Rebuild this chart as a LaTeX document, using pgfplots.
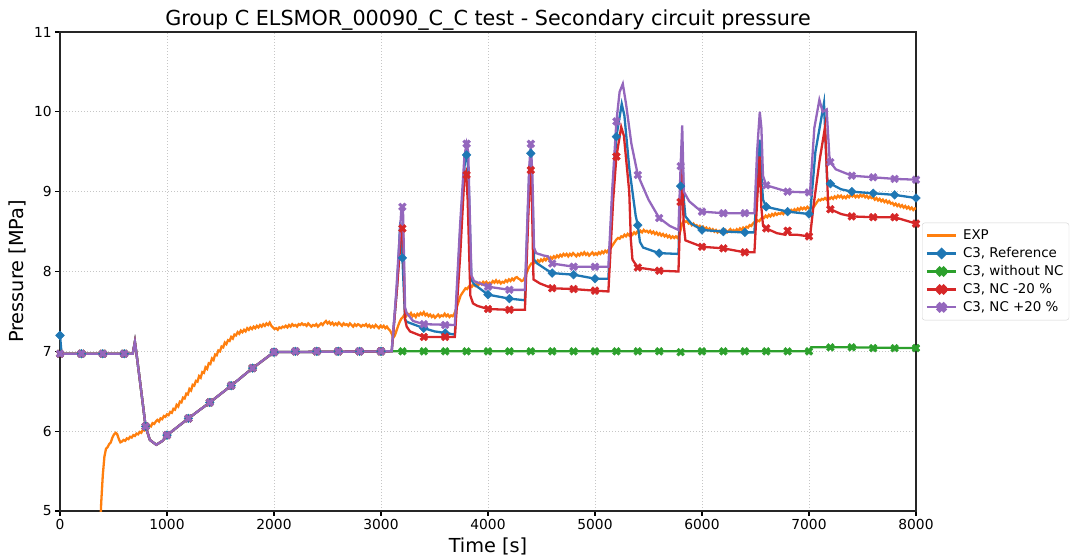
\documentclass[border=0pt]{standalone}
\usepackage{fontspec}
\setmainfont{DejaVu Sans}
\usepackage{pgfplots}
\pgfplotsset{compat=1.18}

\definecolor{cexp}{HTML}{FF7F0E}
\definecolor{cref}{HTML}{1F77B4}
\definecolor{cgrn}{HTML}{2CA02C}
\definecolor{cred}{HTML}{D62728}
\definecolor{cpur}{HTML}{9467BD}

% filled X marker (like matplotlib 'X')
\pgfdeclareplotmark{Xf}{%
  \pgftransformrotate{45}%
  \pgfpathrectanglecorners{\pgfpoint{-\pgfplotmarksize}{-0.32\pgfplotmarksize}}{\pgfpoint{\pgfplotmarksize}{0.32\pgfplotmarksize}}%
  \pgfpathrectanglecorners{\pgfpoint{-0.32\pgfplotmarksize}{-\pgfplotmarksize}}{\pgfpoint{0.32\pgfplotmarksize}{\pgfplotmarksize}}%
  \pgfusepathqfillstroke}

\pgfplotsset{
  simline/.style={line width=2.3pt, no marks},
  dmark/.style={only marks, mark=square*, mark size=3.1pt, mark options={rotate=45}},
  xmark/.style={only marks, mark=Xf, mark size=4.2pt},
}

\begin{document}
\begin{tikzpicture}
\begin{axis}[
  scale only axis, width=856pt, height=479pt,
  xmin=0, xmax=8000, ymin=5, ymax=11,
  xtick={0,1000,...,8000}, ytick={5,6,...,11},
  xtick pos=left, ytick pos=left, tick align=outside,
  major tick length=4.8pt,
  tick style={black, line width=1.1pt},
  axis line style={black!85, line width=1.1pt},
  grid=major,
  major grid style={gray!45, line width=0.9pt, dash pattern=on 1.4pt off 1.6pt},
  /pgf/number format/assume math mode=true,
  /pgf/number format/1000 sep={},
  tick label style={font=\fontsize{13.8}{16}\selectfont},
  xlabel={Time [s]}, ylabel={Pressure [MPa]},
  label style={font=\fontsize{19.3}{22}\selectfont},
  xlabel style={yshift=-1pt},
  ylabel style={yshift=1pt},
  title={Group C ELSMOR\_00090\_C\_C test - Secondary circuit pressure},
  title style={font=\fontsize{20.7}{24}\selectfont, at={(0.5,1)}, anchor=south, yshift=-7.5pt},
  legend style={at={(1.007,0.5)}, anchor=west, draw=gray!35, rounded corners=2.5pt,
    font=\fontsize{13.4}{15}\selectfont, row sep=2.4pt, column sep=3.5pt,
    inner xsep=3.5pt, inner ysep=5pt},
  legend cell align=left,
  legend image code/.code={\draw[mark repeat=2,mark phase=2] plot coordinates {(0cm,0cm)(0.52cm,0cm)(1.04cm,0cm)};},
]
% ---------------- EXP ----------------
\addplot[cexp, line width=2.3pt, forget plot] coordinates {
(370,4.6)(385,5.1)(400,5.45)(415,5.68)(430,5.78)(445,5.80)(460,5.84)(475,5.86)(490,5.92)(505,5.96)(520,5.98)(535,5.96)(550,5.90)(565,5.86)(580,5.87)(595,5.89)(610,5.88)(625,5.91)(640,5.90)(655,5.93)(670,5.92)(685,5.95)(700,5.94)(715,5.97)(730,5.96)(745,5.99)(760,5.98)(775,6.02)(790,6.01)(805,6.05)(820,6.04)(835,6.07)(850,6.06)(865,6.10)(880,6.09)(895,6.12)(910,6.14)(925,6.12)(940,6.16)(955,6.15)(970,6.19)(985,6.18)(1000,6.21)(1015,6.20)(1030,6.24)(1045,6.23)(1060,6.28)(1075,6.27)(1090,6.33)(1105,6.31)(1120,6.37)(1135,6.36)(1150,6.42)(1165,6.41)(1180,6.47)(1195,6.46)(1210,6.53)(1225,6.51)(1240,6.58)(1255,6.57)(1270,6.63)(1285,6.62)(1300,6.69)(1315,6.67)(1330,6.74)(1345,6.73)(1360,6.80)(1375,6.78)(1390,6.85)(1405,6.84)(1420,6.91)(1435,6.89)(1450,6.96)(1465,6.95)(1480,7.01)(1495,7.00)(1510,7.06)(1525,7.05)(1540,7.11)(1555,7.09)(1570,7.14)(1585,7.13)(1600,7.18)(1615,7.16)(1630,7.21)(1645,7.20)(1660,7.24)(1675,7.22)(1690,7.26)(1705,7.24)(1720,7.27)(1735,7.25)(1750,7.29)(1765,7.27)(1780,7.30)(1795,7.28)(1810,7.31)(1825,7.29)(1840,7.32)(1855,7.30)(1870,7.33)(1885,7.31)(1900,7.34)(1915,7.32)(1930,7.35)(1945,7.33)(1960,7.36)(1975,7.32)(1990,7.30)(2005,7.28)(2020,7.29)(2035,7.27)(2050,7.30)(2065,7.29)(2080,7.31)(2095,7.30)(2110,7.32)(2125,7.30)(2140,7.33)(2155,7.31)(2170,7.34)(2185,7.32)(2200,7.33)(2215,7.31)(2230,7.34)(2245,7.33)(2260,7.35)(2275,7.33)(2290,7.34)(2305,7.32)(2320,7.35)(2335,7.33)(2350,7.31)(2365,7.33)(2380,7.32)(2395,7.34)(2410,7.31)(2425,7.33)(2440,7.35)(2455,7.33)(2470,7.36)(2485,7.38)(2500,7.35)(2515,7.37)(2530,7.34)(2545,7.36)(2560,7.33)(2575,7.35)(2590,7.33)(2605,7.36)(2620,7.34)(2635,7.32)(2650,7.35)(2665,7.33)(2680,7.34)(2695,7.32)(2710,7.35)(2725,7.33)(2740,7.31)(2755,7.34)(2770,7.32)(2785,7.34)(2800,7.33)(2815,7.31)(2830,7.33)(2845,7.32)(2860,7.34)(2875,7.31)(2890,7.33)(2905,7.30)(2920,7.32)(2935,7.30)(2950,7.33)(2965,7.31)(2980,7.29)(2995,7.32)(3010,7.30)(3025,7.32)(3040,7.29)(3055,7.31)(3070,7.28)(3085,7.26)(3100,7.22)(3115,7.17)(3130,7.20)(3145,7.26)(3160,7.32)(3175,7.37)(3190,7.41)(3205,7.43)(3220,7.46)(3235,7.44)(3250,7.47)(3265,7.45)(3280,7.48)(3295,7.44)(3310,7.46)(3325,7.43)(3340,7.47)(3355,7.45)(3370,7.48)(3385,7.46)(3400,7.49)(3415,7.45)(3430,7.47)(3445,7.44)(3460,7.46)(3475,7.43)(3490,7.45)(3505,7.42)(3520,7.44)(3535,7.46)(3550,7.43)(3565,7.45)(3580,7.44)(3595,7.47)(3610,7.44)(3625,7.46)(3640,7.43)(3655,7.45)(3670,7.44)(3685,7.47)(3700,7.52)(3715,7.58)(3730,7.64)(3745,7.70)(3760,7.73)(3775,7.76)(3790,7.79)(3805,7.78)(3820,7.81)(3835,7.83)(3850,7.81)(3865,7.84)(3880,7.82)(3895,7.85)(3910,7.83)(3925,7.86)(3940,7.84)(3955,7.87)(3970,7.85)(3985,7.87)(4000,7.84)(4015,7.86)(4030,7.85)(4045,7.88)(4060,7.86)(4075,7.89)(4090,7.86)(4105,7.88)(4120,7.85)(4135,7.87)(4150,7.86)(4165,7.89)(4180,7.87)(4195,7.90)(4210,7.88)(4225,7.91)(4240,7.89)(4255,7.92)(4270,7.93)(4285,7.91)(4300,7.90)(4315,7.88)(4330,7.89)(4345,7.93)(4360,7.98)(4375,8.03)(4390,8.07)(4405,8.10)(4420,8.09)(4435,8.12)(4450,8.11)(4465,8.14)(4480,8.12)(4495,8.15)(4510,8.13)(4525,8.16)(4540,8.14)(4555,8.17)(4570,8.15)(4585,8.18)(4600,8.16)(4615,8.19)(4630,8.17)(4645,8.20)(4660,8.18)(4675,8.21)(4690,8.19)(4705,8.22)(4720,8.20)(4735,8.22)(4750,8.19)(4765,8.22)(4780,8.20)(4795,8.23)(4810,8.21)(4825,8.19)(4840,8.22)(4855,8.20)(4870,8.23)(4885,8.21)(4900,8.24)(4915,8.21)(4930,8.23)(4945,8.20)(4960,8.22)(4975,8.24)(4990,8.21)(5005,8.23)(5020,8.21)(5035,8.24)(5050,8.22)(5065,8.25)(5080,8.23)(5095,8.26)(5110,8.24)(5125,8.27)(5140,8.28)(5155,8.31)(5170,8.34)(5185,8.37)(5200,8.40)(5215,8.42)(5230,8.41)(5245,8.44)(5260,8.43)(5275,8.46)(5290,8.44)(5305,8.47)(5320,8.45)(5335,8.48)(5350,8.46)(5365,8.49)(5380,8.47)(5395,8.50)(5410,8.48)(5425,8.51)(5440,8.49)(5455,8.52)(5470,8.50)(5485,8.51)(5500,8.49)(5515,8.51)(5530,8.48)(5545,8.50)(5560,8.47)(5575,8.49)(5590,8.46)(5605,8.48)(5620,8.45)(5635,8.47)(5650,8.44)(5665,8.46)(5680,8.43)(5695,8.45)(5710,8.42)(5725,8.44)(5740,8.42)(5755,8.44)(5770,8.42)(5785,8.45)(5800,8.52)(5815,8.60)(5830,8.64)(5845,8.62)(5860,8.63)(5875,8.60)(5890,8.61)(5905,8.58)(5920,8.60)(5935,8.57)(5950,8.58)(5965,8.55)(5980,8.57)(5995,8.54)(6010,8.56)(6025,8.53)(6040,8.55)(6055,8.52)(6070,8.54)(6085,8.51)(6100,8.53)(6115,8.50)(6130,8.52)(6145,8.49)(6160,8.51)(6175,8.49)(6190,8.52)(6205,8.50)(6220,8.52)(6235,8.49)(6250,8.51)(6265,8.53)(6280,8.50)(6295,8.52)(6310,8.50)(6325,8.53)(6340,8.51)(6355,8.54)(6370,8.52)(6385,8.55)(6400,8.53)(6415,8.56)(6430,8.55)(6445,8.58)(6460,8.57)(6475,8.60)(6490,8.62)(6505,8.61)(6520,8.64)(6535,8.63)(6550,8.66)(6565,8.68)(6580,8.67)(6595,8.70)(6610,8.68)(6625,8.71)(6640,8.69)(6655,8.72)(6670,8.70)(6685,8.73)(6700,8.71)(6715,8.73)(6730,8.72)(6745,8.74)(6760,8.72)(6775,8.75)(6790,8.73)(6805,8.76)(6820,8.74)(6835,8.77)(6850,8.75)(6865,8.78)(6880,8.76)(6895,8.79)(6910,8.77)(6925,8.80)(6940,8.78)(6955,8.80)(6970,8.78)(6985,8.81)(7000,8.79)(7015,8.80)(7030,8.79)(7045,8.81)(7060,8.84)(7075,8.87)(7090,8.90)(7105,8.89)(7120,8.91)(7135,8.90)(7150,8.92)(7165,8.90)(7180,8.93)(7195,8.91)(7210,8.93)(7225,8.91)(7240,8.94)(7255,8.92)(7270,8.95)(7285,8.93)(7300,8.95)(7315,8.92)(7330,8.94)(7345,8.92)(7360,8.95)(7375,8.93)(7390,8.96)(7405,8.94)(7420,8.96)(7435,8.93)(7450,8.95)(7465,8.93)(7480,8.96)(7495,8.94)(7510,8.96)(7525,8.93)(7540,8.95)(7555,8.92)(7570,8.94)(7585,8.92)(7600,8.93)(7615,8.90)(7630,8.92)(7645,8.89)(7660,8.91)(7675,8.88)(7690,8.90)(7705,8.87)(7720,8.89)(7735,8.86)(7750,8.88)(7765,8.85)(7780,8.86)(7795,8.83)(7810,8.85)(7825,8.82)(7840,8.84)(7855,8.81)(7870,8.83)(7885,8.80)(7900,8.82)(7915,8.79)(7930,8.81)(7945,8.78)(7960,8.80)(7975,8.77)(7990,8.79)(8000,8.78)
};
% ---------------- C3, Reference ----------------
\addplot[cref, simline, forget plot] coordinates {
(0,7.2)(15,6.97)(680,6.97)(700,7.12)(712,7.0)(750,6.6)(800,6.06)(840,5.89)(900,5.83)(960,5.88)(1000,5.95)(1200,6.16)(1400,6.36)(1600,6.57)(1800,6.79)(2000,6.99)(3100,7.0)
(3150,7.8)(3180,8.62)(3200,8.17)(3225,7.4)(3240,7.37)(3400,7.29)(3500,7.25)(3600,7.23)(3690,7.21)
(3740,8.5)(3785,9.4)(3800,9.47)(3815,9.3)(3845,7.9)(3870,7.84)(4000,7.71)(4200,7.66)(4345,7.64)
(4385,9.2)(4400,9.48)(4415,9.0)(4430,8.15)(4460,8.1)(4550,8.02)(4600,7.98)(4800,7.96)(5000,7.91)(5125,7.91)
(5165,9.0)(5200,9.69)(5250,10.1)(5275,9.95)(5320,9.3)(5345,9.05)(5380,8.7)(5400,8.58)(5420,8.37)(5450,8.3)(5600,8.23)(5780,8.22)
(5800,9.07)(5815,9.52)(5830,8.9)(5845,8.69)(5900,8.6)(6000,8.52)(6200,8.5)(6400,8.49)(6490,8.49)
(6520,9.3)(6538,9.65)(6555,9.2)(6570,8.9)(6600,8.81)(6800,8.75)(7000,8.72)
(7010,8.71)(7060,9.5)(7140,10.11)(7170,9.15)(7200,9.1)(7300,9.03)(7400,9.0)(7600,8.98)(7800,8.96)(8000,8.92)
};
\addplot[cref, dmark, forget plot] coordinates {
(0,7.2)(200,6.97)(400,6.97)(600,6.97)(800,6.06)(1000,5.95)(1200,6.16)(1400,6.36)(1600,6.57)(1800,6.79)(2000,6.99)(2200,7.0)(2400,7.0)(2600,7.0)(2800,7.0)(3000,7.0)
(3200,8.17)(3400,7.29)(3600,7.23)(3800,9.46)(4000,7.71)(4200,7.66)(4400,9.48)(4600,7.98)(4800,7.96)(5000,7.91)(5200,9.69)(5400,8.58)(5600,8.23)(5800,9.07)(6000,8.52)(6200,8.5)(6400,8.49)(6600,8.81)(6800,8.75)(7000,8.72)(7200,9.1)(7400,9.0)(7600,8.98)(7800,8.96)(8000,8.92)
};
% ---------------- C3, without NC ----------------
\addplot[cgrn, simline, forget plot] coordinates {
(0,6.97)(680,6.97)(700,7.12)(712,7.0)(750,6.6)(800,6.06)(840,5.89)(900,5.83)(960,5.88)(1000,5.95)(1200,6.16)(1400,6.36)(1600,6.57)(1800,6.79)(2000,6.99)(3100,7.0)
(5780,7.0)(5800,6.99)(5830,7.0)(7000,7.0)(7020,7.05)(7400,7.05)(8000,7.04)
};
\addplot[cgrn, xmark, forget plot] coordinates {
(0,6.97)(200,6.97)(400,6.97)(600,6.97)(800,6.06)(1000,5.95)(1200,6.16)(1400,6.36)(1600,6.57)(1800,6.79)(2000,6.99)(2200,7.0)(2400,7.0)(2600,7.0)(2800,7.0)(3000,7.0)
(3200,7.0)(3400,7.0)(3600,7.0)(3800,7.0)(4000,7.0)(4200,7.0)(4400,7.0)(4600,7.0)(4800,7.0)(5000,7.0)(5200,7.0)(5400,7.0)(5600,7.0)(5800,6.99)(6000,7.0)(6200,7.0)(6400,7.0)(6600,7.0)(6800,7.0)(7000,7.0)(7200,7.05)(7400,7.05)(7600,7.04)(7800,7.04)(8000,7.04)
};
% ---------------- C3, NC -20 % ----------------
\addplot[cred, simline, forget plot] coordinates {
(0,6.97)(680,6.97)(700,7.12)(712,7.0)(750,6.6)(800,6.06)(840,5.89)(900,5.83)(960,5.88)(1000,5.95)(1200,6.16)(1400,6.36)(1600,6.57)(1800,6.79)(2000,6.99)(3100,7.0)
(3150,7.8)(3190,8.5)(3205,8.55)(3225,7.4)(3240,7.31)(3270,7.25)(3400,7.18)(3690,7.18)
(3740,8.2)(3780,9.2)(3795,9.25)(3810,8.9)(3835,7.7)(3860,7.6)(3900,7.57)(4000,7.53)(4200,7.52)(4345,7.52)
(4385,9.0)(4400,9.27)(4412,8.8)(4425,7.9)(4486,7.85)(4600,7.79)(4800,7.78)(5000,7.76)(5125,7.75)
(5170,8.9)(5200,9.44)(5245,9.81)(5270,9.7)(5320,9.0)(5335,8.4)(5350,8.15)(5400,8.05)(5600,8.01)(5780,8.0)
(5800,8.87)(5815,9.31)(5828,8.6)(5845,8.39)(6000,8.31)(6200,8.29)(6400,8.24)(6490,8.24)
(6520,9.0)(6538,9.44)(6555,8.8)(6570,8.58)(6600,8.54)(6700,8.48)(6780,8.46)(6800,8.51)(6820,8.46)(6890,8.46)(7000,8.44)
(7010,8.44)(7040,8.8)(7100,9.4)(7150,9.81)(7180,8.81)(7200,8.78)(7300,8.72)(7400,8.69)(7600,8.68)(7800,8.68)(8000,8.6)
};
\addplot[cred, xmark, forget plot] coordinates {
(0,6.97)(200,6.97)(400,6.97)(600,6.97)(800,6.06)(1000,5.95)(1200,6.16)(1400,6.36)(1600,6.57)(1800,6.79)(2000,6.99)(2200,7.0)(2400,7.0)(2600,7.0)(2800,7.0)(3000,7.0)
(3200,8.54)(3400,7.18)(3600,7.18)(3800,9.21)(4000,7.53)(4200,7.52)(4400,9.27)(4600,7.79)(4800,7.78)(5000,7.76)(5200,9.44)(5400,8.05)(5600,8.01)(5800,8.87)(6000,8.31)(6200,8.29)(6400,8.24)(6600,8.54)(6800,8.51)(7000,8.44)(7200,8.78)(7400,8.69)(7600,8.68)(7800,8.68)(8000,8.6)
};
% ---------------- C3, NC +20 % ----------------
\addplot[cpur, simline, forget plot] coordinates {
(0,6.97)(680,6.97)(700,7.12)(712,7.0)(750,6.6)(800,6.06)(840,5.89)(900,5.83)(960,5.88)(1000,5.95)(1200,6.16)(1400,6.36)(1600,6.57)(1800,6.79)(2000,6.99)(3100,7.0)
(3140,7.7)(3190,8.78)(3205,8.81)(3225,7.55)(3240,7.48)(3300,7.38)(3400,7.34)(3690,7.33)
(3740,8.6)(3780,9.45)(3800,9.6)(3815,9.5)(3845,7.95)(3870,7.88)(4000,7.81)(4200,7.77)(4345,7.77)
(4385,9.3)(4400,9.6)(4415,9.2)(4430,8.3)(4450,8.23)(4520,8.2)(4560,8.19)(4600,8.1)(4800,8.06)(5000,8.06)(5125,8.06)
(5160,9.0)(5200,9.88)(5230,10.25)(5260,10.35)(5290,10.1)(5340,9.6)(5400,9.21)(5500,8.9)(5600,8.67)(5700,8.57)(5780,8.52)
(5800,9.32)(5815,9.83)(5830,9.0)(5880,8.88)(5950,8.8)(6000,8.75)(6200,8.73)(6400,8.73)(6490,8.73)
(6515,9.5)(6540,10.0)(6555,9.8)(6570,9.2)(6600,9.08)(6800,9.0)(7000,8.99)
(7010,9.0)(7050,9.8)(7097,10.15)(7128,10.0)(7165,10.03)(7190,9.45)(7200,9.37)(7250,9.28)(7400,9.2)(7600,9.18)(7800,9.16)(8000,9.15)
};
\addplot[cpur, xmark, forget plot] coordinates {
(0,6.97)(200,6.97)(400,6.97)(600,6.97)(800,6.06)(1000,5.95)(1200,6.16)(1400,6.36)(1600,6.57)(1800,6.79)(2000,6.99)(2200,7.0)(2400,7.0)(2600,7.0)(2800,7.0)(3000,7.0)
(3200,8.81)(3400,7.34)(3600,7.33)(3800,9.6)(4000,7.81)(4200,7.77)(4400,9.6)(4600,8.1)(4800,8.06)(5000,8.06)(5200,9.88)(5400,9.21)(5600,8.67)(5800,9.32)(6000,8.75)(6200,8.73)(6400,8.73)(6600,9.08)(6800,9.0)(7000,8.99)(7200,9.37)(7400,9.2)(7600,9.18)(7800,9.16)(8000,9.15)
};
% ---------------- legend ----------------
\addlegendimage{cexp, line width=2.3pt}
\addlegendentry{EXP}
\addlegendimage{cref, line width=2.3pt, mark=square*, mark size=3.1pt, mark options={rotate=45}}
\addlegendentry{C3, Reference}
\addlegendimage{cgrn, line width=2.3pt, mark=Xf, mark size=4.2pt}
\addlegendentry{C3, without NC}
\addlegendimage{cred, line width=2.3pt, mark=Xf, mark size=4.2pt}
\addlegendentry{C3, NC -20 \%}
\addlegendimage{cpur, line width=2.3pt, mark=Xf, mark size=4.2pt}
\addlegendentry{C3, NC +20 \%}
\end{axis}
% page frame matching the reference margins around the axis box
\pgfresetboundingbox
\path[use as bounding box] (-60pt,-46pt) rectangle (1010pt,511pt);
\end{tikzpicture}
\end{document}
